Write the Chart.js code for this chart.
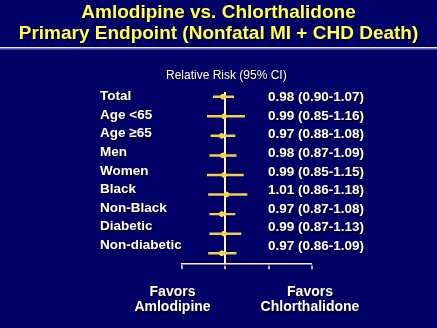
<!DOCTYPE html>
<html>
<head>
<meta charset="utf-8">
<script src="https://cdn.jsdelivr.net/npm/chart.js@4"></script>
<style>
  html, body { margin: 0; padding: 0; background: #000066; overflow: hidden; }
  canvas { display: block; }
</style>
</head>
<body>
<canvas id="forest" width="437" height="328"></canvas>
<script>
const groups = ['Total', 'Age <65', 'Age \u226565', 'Men', 'Women', 'Black', 'Non-Black', 'Diabetic', 'Non-diabetic'];
const relRisk = [0.98, 0.99, 0.97, 0.98, 0.99, 1.01, 0.97, 0.99, 0.97];
const ciLow = [0.90, 0.85, 0.88, 0.87, 0.85, 0.86, 0.87, 0.87, 0.86];
const ciHigh = [1.07, 1.16, 1.08, 1.09, 1.15, 1.18, 1.08, 1.13, 1.09];
const xTicks = [0.64, 1, 1.36, 1.72];
const titleLines = ['Amlodipine vs. Chlorthalidone', 'Primary Endpoint (Nonfatal MI + CHD Death)'];
const favorsLeft = ['Favors', 'Amlodipine'];
const favorsRight = ['Favors', 'Chlorthalidone'];

const FONT = "'Liberation Sans', Arial, sans-serif";
const rowIdx = groups.map((g, i) => i);

function fmt(v) { return v.toFixed(2); }
const valueText = relRisk.map((v, i) => fmt(v) + ' (' + fmt(ciLow[i]) + '-' + fmt(ciHigh[i]) + ')');

function shadowOn(c) {
  c.shadowColor = 'rgba(0,0,0,0.8)';
  c.shadowOffsetX = 1.2;
  c.shadowOffsetY = 1.2;
  c.shadowBlur = 0.5;
}

const slide = {
  id: 'slide',
  beforeDraw(chart) {
    const c = chart.ctx;
    c.save();
    c.fillStyle = '#000066';
    c.fillRect(0, 0, chart.width, chart.height);
    // rule under title
    c.fillStyle = '#e8e8f8';
    c.fillRect(0, 47, chart.width, 1.5);
    c.fillStyle = '#8080c0';
    c.fillRect(0, 48.5, chart.width, 1);
    c.restore();
    shadowOn(c);
  },
  beforeDatasetsDraw(chart) {
    const c = chart.ctx;
    c.shadowColor = 'rgba(0,0,0,0)';
    c.shadowOffsetX = 0;
    c.shadowOffsetY = 0;
    c.shadowBlur = 0;
  },
  afterDraw(chart) {
    const c = chart.ctx;
    const x = chart.scales.x;
    const yl = chart.scales.yl;
    c.save();
    shadowOn(c);
    c.fillStyle = '#ffffff';
    c.textBaseline = 'middle';

    c.font = '12px ' + FONT;
    c.textAlign = 'center';
    c.fillText('Relative Risk (95% CI)', x.getPixelForValue(1) + 1, 75.5);

    c.font = 'bold 13.5px ' + FONT;
    c.textAlign = 'left';
    valueText.forEach((t, i) => c.fillText(t, 268, yl.getPixelForValue(i) + 1));

    c.font = 'bold 14px ' + FONT;
    c.textAlign = 'center';
    favorsLeft.forEach((t, i) => c.fillText(t, 172.5, 292.5 + i * 15));
    favorsRight.forEach((t, i) => c.fillText(t, 310, 292.5 + i * 15));
    c.restore();
  }
};

// empty axes that only reserve room beside the plot
function spacer(position, width) {
  return {
    type: 'linear',
    position: position,
    weight: 5,
    ticks: { display: false },
    grid: { display: false },
    border: { display: false },
    afterFit: s => { s.width = width; }
  };
}

new Chart(document.getElementById('forest'), {
  data: {
    datasets: [
      {
        type: 'bar',
        indexAxis: 'y',
        data: rowIdx.map(i => ({ y: i, x: [ciLow[i], ciHigh[i]] })),
        backgroundColor: '#f0cf4a',
        borderWidth: 0,
        barThickness: 1.8,
        xAxisID: 'x',
        yAxisID: 'y'
      },
      {
        type: 'scatter',
        data: rowIdx.map(i => ({ x: relRisk[i], y: i })),
        backgroundColor: '#ffe640',
        borderColor: '#ffe640',
        pointStyle: 'circle',
        pointRadius: 2.4,
        xAxisID: 'x',
        yAxisID: 'y'
      }
    ]
  },
  options: {
    responsive: false,
    animation: false,
    events: [],
    layout: { padding: { left: 0, right: 0, top: 0, bottom: 58.7 } },
    plugins: {
      legend: { display: false },
      tooltip: { enabled: false },
      title: {
        display: true,
        text: titleLines,
        color: '#ffff55',
        font: { family: FONT, size: 19, weight: 'bold', lineHeight: 1.1 },
        padding: { top: 2, bottom: 48.2 }
      }
    },
    scales: {
      x: {
        type: 'linear',
        position: 'bottom',
        min: xTicks[0],
        max: xTicks[xTicks.length - 1],
        afterBuildTicks: s => { s.ticks = xTicks.map(v => ({ value: v })); },
        ticks: { display: false },
        grid: {
          drawOnChartArea: true,
          tickLength: 6,
          color: ctx => (ctx.tick && ctx.tick.value === 1 ? '#f4f4ff' : 'rgba(0,0,0,0)'),
          lineWidth: ctx => (ctx.tick && ctx.tick.value === 1 ? 2 : 0),
          tickColor: '#f4f4ff',
          tickWidth: 1.5
        },
        border: { display: true, color: '#f4f4ff', width: 1.5 }
      },
      y: {
        type: 'linear',
        display: false,
        offset: false,
        reverse: true,
        min: -0.24,
        max: 8.513
      },
      padL: spacer('left', 100),
      padR: spacer('right', 125),
      yl: {
        type: 'linear',
        position: 'left',
        weight: 0,
        reverse: true,
        min: -0.242,
        max: 8.968,
        afterBuildTicks: s => { s.ticks = rowIdx.map(v => ({ value: v })); },
        afterFit: s => { s.width = 82; },
        ticks: {
          crossAlign: 'far',
          color: '#ffffff',
          font: { family: FONT, size: 13.5, weight: 'bold' },
          callback: v => groups[v]
        },
        grid: { display: false },
        border: { display: false }
      }
    }
  },
  plugins: [slide]
});
</script>
</body>
</html>
